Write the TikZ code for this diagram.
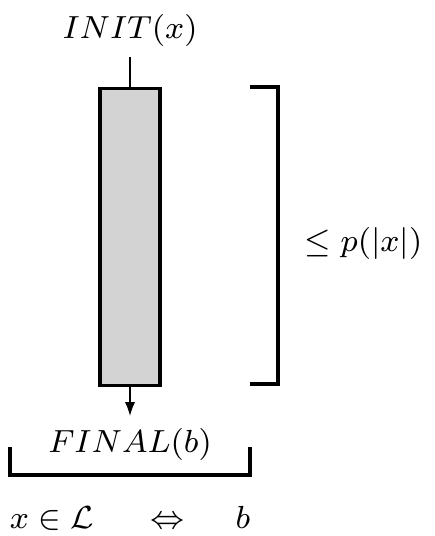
\documentclass[tikz,border=0pt]{standalone}
\usepackage{amsmath,amssymb}
\usetikzlibrary{arrows.meta}
\begin{document}
\begin{tikzpicture}[x=0.25pt,y=-0.25pt,
  thin line/.style={line width=0.4pt},
  thick line/.style={line width=0.8pt},
  lbl/.style={inner sep=0pt, font=\fontsize{8.2}{10}\selectfont}]
\useasboundingbox (0,0) rectangle (435,536);
\node[lbl] (init) at (130,30) {$INIT(x)$};
\coordinate (top) at (130,57);
\node[draw, thick line, fill={rgb,255:red,211;green,211;blue,211}, minimum width=15pt, minimum height=74.25pt, inner sep=0pt, anchor=north] (box) at (130,87) {};
\draw[thin line] (top) -- (box.north);
\node[lbl] (final) at (130,444) {$FINAL(b)$};
\draw[thin line, -{Latex[length=3.5pt,width=2.6pt]}] (box.south) -- (130,416);
\draw[thick line] (10,447) -- (10,475) -- (250,475) -- (250,447);
\draw[thick line] (250,87) -- (278,87) -- (278,384) -- (250,384);
\node[lbl, anchor=west] (bound) at (304,243) {$\leq p(|x|)$};
\node[lbl, anchor=base west] (xin) at (9,528) {$x \in \mathcal{L}$};
\node[lbl, anchor=base] (iff) at (168,528) {$\Leftrightarrow$};
\node[lbl, anchor=base east] (b) at (251,528) {$b$};
\end{tikzpicture}
\end{document}
